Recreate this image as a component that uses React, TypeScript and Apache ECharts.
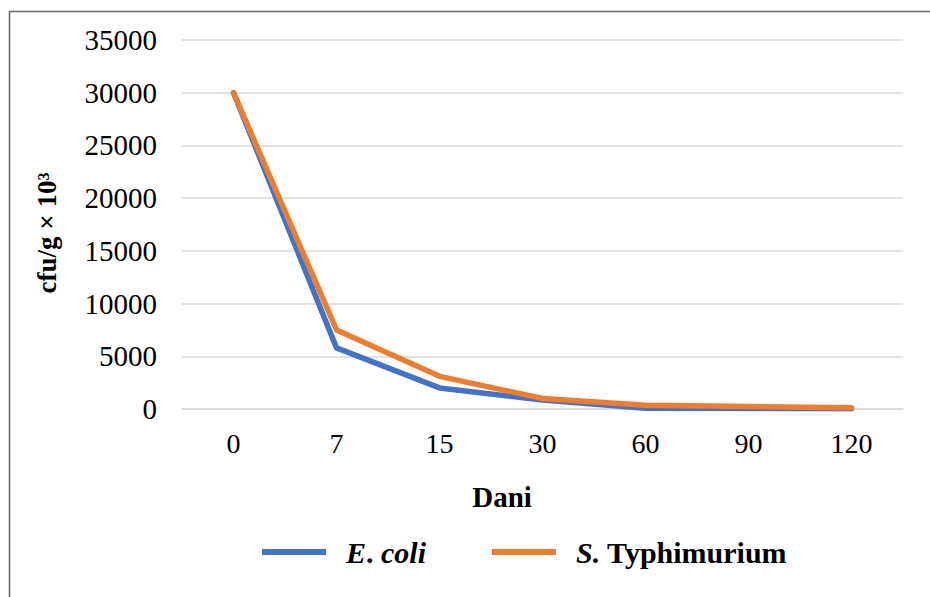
import React, { useEffect, useRef } from "react";
import * as echarts from "echarts";

const days = ["0", "7", "15", "30", "60", "90", "120"];
const eColi = [30000, 5800, 2000, 850, 80, 40, 20];
const sTyphimurium = [30000, 7500, 3100, 1000, 350, 230, 120];
const yTicks = { min: 0, max: 35000, interval: 5000 };

const FONT = "'Liberation Serif', 'Times New Roman', serif";

export default function App() {
  const ref = useRef<HTMLDivElement>(null);
  useEffect(() => {
    if (!ref.current) return;
    const chart = echarts.init(ref.current, null, { renderer: "svg" });
    chart.setOption({
      animation: false,
      backgroundColor: "#ffffff",
      textStyle: { fontFamily: FONT, color: "#000" },
      grid: { left: 182, right: 27, top: 40, bottom: 188 },
      graphic: [
        {
          type: "rect",
          shape: { x: 9.5, y: 11.5, width: 1000, height: 1000 },
          style: { fill: "none", stroke: "#666666", lineWidth: 1.5 },
          silent: true,
        },
        {
          type: "text",
          x: 47,
          y: 233,
          rotation: Math.PI / 2,
          style: {
            text: "cfu/g × 10³",
            fontFamily: FONT,
            fontWeight: "bold",
            fontSize: 27,
            fill: "#000",
            textAlign: "center",
            textVerticalAlign: "middle",
          },
        },
        {
          type: "text",
          x: 502,
          y: 497,
          style: {
            text: "Dani",
            fontFamily: FONT,
            fontWeight: "bold",
            fontSize: 29,
            fill: "#000",
            textAlign: "center",
            textVerticalAlign: "middle",
          },
        },
      ],
      legend: {
        left: 262,
        top: 537,
        padding: 0,
        icon: "rect",
        itemWidth: 64,
        itemHeight: 6,
        itemGap: 66,
        data: ["E. coli", "S. Typhimurium"],
        formatter: (name: string) =>
          name === "E. coli" ? "{bi|E}{b|. }{bi|coli}" : "{bi|S.}{b| Typhimurium}",
        textStyle: {
          padding: [0, 0, 0, 15],
          rich: {
            bi: { fontFamily: FONT, fontSize: 30, fontWeight: "bold", fontStyle: "italic", color: "#000" },
            b: { fontFamily: FONT, fontSize: 30, fontWeight: "bold", color: "#000" },
          },
        },
      },
      xAxis: {
        type: "category",
        data: days,
        boundaryGap: true,
        axisLine: { show: true, lineStyle: { color: "#d9d9d9", width: 1.5 } },
        axisTick: { show: false },
        axisLabel: { fontFamily: FONT, fontSize: 28, color: "#000", margin: 20 },
      },
      yAxis: {
        type: "value",
        min: yTicks.min,
        max: yTicks.max,
        interval: yTicks.interval,
        axisLine: { show: false },
        axisTick: { show: false },
        axisLabel: {
          fontFamily: FONT,
          fontSize: 29,
          color: "#000",
          margin: 25,
          formatter: (v: number) => String(v),
        },
        splitLine: { lineStyle: { color: "#d9d9d9", width: 1.5 } },
      },
      series: [
        {
          name: "E. coli",
          type: "line",
          data: eColi,
          symbol: "none",
          color: "#4472C4",
          lineStyle: { color: "#4472C4", width: 5.5, cap: "round", join: "round" },
        },
        {
          name: "S. Typhimurium",
          type: "line",
          data: sTyphimurium,
          symbol: "none",
          color: "#ED7D31",
          lineStyle: { color: "#ED7D31", width: 5.5, cap: "round", join: "round" },
        },
      ],
    });
    return () => chart.dispose();
  }, []);
  return (
    <div
      ref={ref}
      style={{ position: "fixed", left: 0, top: 0, width: 930, height: 597, background: "#fff" }}
    />
  );
}
